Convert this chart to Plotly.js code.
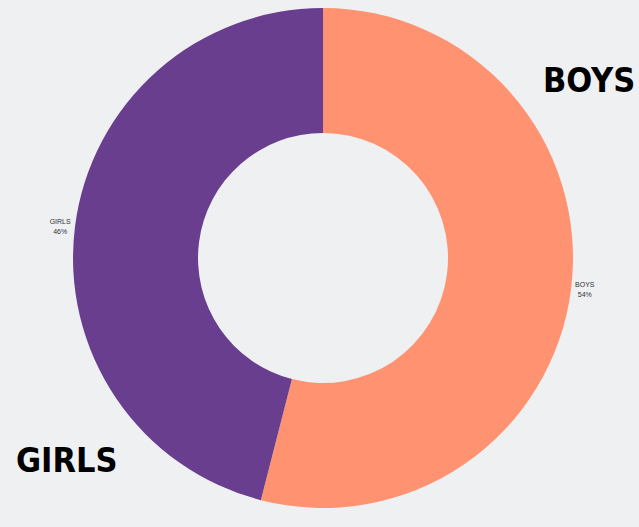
<!DOCTYPE html>
<html>
<head>
<meta charset="utf-8">
<script src="https://cdn.plot.ly/plotly-3.0.1.min.js"></script>
<style>html,body{margin:0;padding:0;background:#eff0f2;}#chart{width:639px;height:527px;}</style>
</head>
<body>
<div id="chart"></div>
<script>
const labels = ["BOYS", "GIRLS"];
const values = [54, 46];
const colors = ["#ff9270", "#693e8e"];
const bigLabels = ["BOYS", "GIRLS"];

const data = [{
  type: "pie",
  labels: labels,
  values: values,
  hole: 0.5,
  sort: false,
  direction: "clockwise",
  rotation: 0,
  marker: {colors: colors, line: {width: 0}},
  textinfo: "label+percent",
  textposition: "outside",
  textfont: {family: "Liberation Sans, Arial, sans-serif", size: 7, color: "#333"},
  domain: {x: [0.011, 1], y: [0, 1]},
  showlegend: false,
  automargin: false
}];

const layout = {
  width: 639,
  height: 527,
  paper_bgcolor: "#eff0f2",
  plot_bgcolor: "#eff0f2",
  margin: {l: 0, r: 0, t: 8, b: 19},
  showlegend: false,
  annotations: [
    {text: "<b>" + bigLabels[0] + "</b>", xref: "paper", yref: "paper", x: 0.997, y: 0.856, xanchor: "right", yanchor: "middle", showarrow: false,
     font: {family: "DejaVu Sans Condensed, sans-serif", size: 34, color: "#000"}},
    {text: "<b>" + bigLabels[1] + "</b>", xref: "paper", yref: "paper", x: 0.022, y: 0.096, xanchor: "left", yanchor: "middle", showarrow: false,
     font: {family: "DejaVu Sans Condensed, sans-serif", size: 34, color: "#000"}}
  ]
};

Plotly.newPlot("chart", data, layout, {displayModeBar: false, staticPlot: true});
</script>
</body>
</html>
